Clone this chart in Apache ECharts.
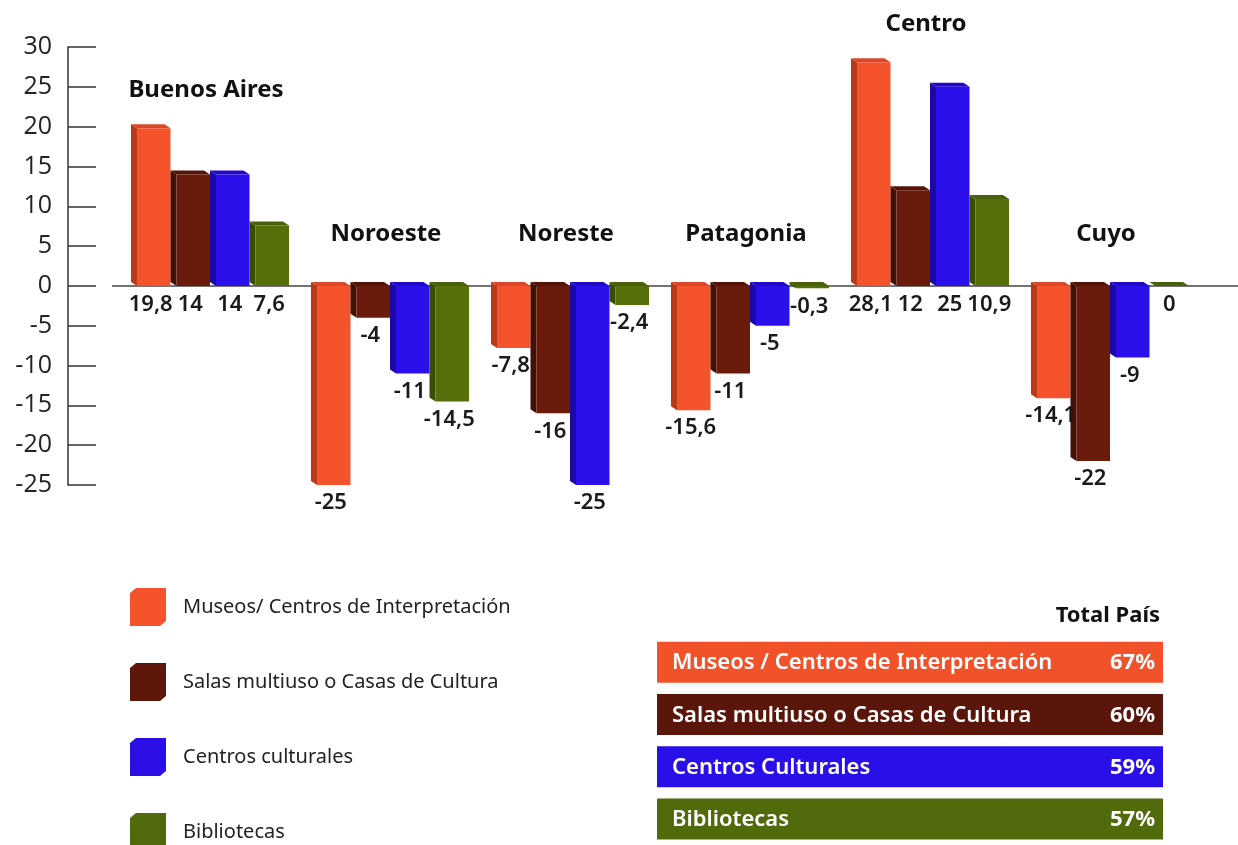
<!DOCTYPE html>
<html>
<head>
<meta charset="utf-8">
<script src="https://cdn.jsdelivr.net/npm/echarts@6/dist/echarts.min.js"></script>
<style>
html,body{margin:0;padding:0;background:#fff;}
#chart{width:1238px;height:845px;}
</style>
</head>
<body>
<div id="chart"></div>
<script>
// ---- data ----
const categories = ['Buenos Aires', 'Noroeste', 'Noreste', 'Patagonia', 'Centro', 'Cuyo'];
const seriesNames = ['Museos/ Centros de Interpretación', 'Salas multiuso o Casas de Cultura', 'Centros culturales', 'Bibliotecas'];
const museos = [19.8, -25, -7.8, -15.6, 28.1, -14.1];
const salas = [14, -4, -16, -11, 12, -22];
const centros = [14, -11, -25, -5, 25, -9];
const bibliotecas = [7.6, -14.5, -2.4, -0.3, 10.9, 0];
const yMin = -25, yMax = 30, yStep = 5;
const totalNames = ['Museos / Centros de Interpretación', 'Salas multiuso o Casas de Cultura', 'Centros Culturales', 'Bibliotecas'];
const totalValues = [67, 60, 59, 57];

// ---- styling ----
const palette = [
  { front: '#F4532B', side: '#B8391A', top: '#D9482A', flat: '#F4532B' },
  { front: '#6B1B0B', side: '#431005', top: '#561408', flat: '#5E1709' },
  { front: '#2C10EC', side: '#1C08A6', top: '#2408C8', flat: '#2B0FE6' },
  { front: '#566F0B', side: '#3A4D06', top: '#48600A', flat: '#526A0C' }
];
const allSeries = [museos, salas, centros, bibliotecas];
const fmt = v => String(v).replace('.', ',');

function barRender(si) {
  const col = palette[si];
  return function (params, api) {
    const ci = api.value(0), v = api.value(1);
    const c0 = api.coord([ci, 0]);
    const c1 = api.coord([ci, v]);
    const band = api.size([1, 0])[0];
    const groupW = band * 0.878;
    const bw = groupW / 4;
    const x = c0[0] - groupW / 2 + si * bw;
    const top = Math.min(c0[1], c1[1]);
    const bot = Math.max(c0[1], c1[1]);
    const d = 6, dy = 4;
    const children = [
      { type: 'polygon', shape: { points: [[x, top - dy], [x + d, top], [x + d, bot], [x, bot - dy]] }, style: { fill: col.side } },
      { type: 'polygon', shape: { points: [[x + d, top], [x + bw, top], [x + bw - d, top - dy], [x, top - dy]] }, style: { fill: col.top } },
      { type: 'rect', shape: { x: x + d, y: top, width: bw - d, height: Math.max(bot - top, 0) }, style: { fill: col.front } }
    ];
    const ly = v < 0 ? bot + 7 : c0[1] + 8;
    children.push({
      type: 'text', z2: 10,
      style: {
        x: x + (bw + d) / 2 - 3, y: ly, text: fmt(v),
        fill: '#1a1a1a', font: '600 22px "Noto Sans"',
        align: 'center', verticalAlign: 'top'
      }
    });
    return { type: 'group', children };
  };
}

const barSeries = allSeries.map((arr, si) => ({
  type: 'custom',
  name: seriesNames[si],
  xAxisIndex: 0, yAxisIndex: 0,
  z: 3,
  itemStyle: { color: palette[si].flat },
  renderItem: barRender(si),
  encode: { x: 0, y: 1 },
  data: arr.map((v, i) => [i, v])
}));

const groupMax = categories.map((_, i) => Math.max(...allSeries.map(a => a[i])));
const regionSeries = {
  type: 'custom', name: 'regions', xAxisIndex: 0, yAxisIndex: 0, z: 4,
  silent: true,
  renderItem: function (params, api) {
    const ci = api.value(0), m = api.value(1);
    const p = api.coord([ci, Math.max(m, 0)]);
    return {
      type: 'text',
      style: {
        x: p[0] - 4, y: p[1] - (m > 0 ? 38 : 52), text: categories[ci],
        fill: '#111', font: 'bold 24px "Noto Sans"', align: 'center', verticalAlign: 'middle'
      }
    };
  },
  encode: { x: 0, y: 1 },
  data: groupMax.map((m, i) => [i, m])
};

const totalColors = ['#F25229', '#5A160A', '#2A10E8', '#516A0C'];
const totalSeries = {
  type: 'custom', name: 'totals', xAxisIndex: 1, yAxisIndex: 1, silent: true,
  renderItem: function (params, api) {
    const ri = api.value(1);
    const p = api.coord([0, ri]);
    const cs = params.coordSys;
    const h = 41;
    return {
      type: 'group',
      children: [
        { type: 'rect', shape: { x: cs.x, y: p[1] - h / 2, width: cs.width, height: h }, style: { fill: totalColors[ri] } },
        { type: 'text', style: { x: cs.x + 15, y: p[1] + 1, text: totalNames[ri], fill: '#fff', font: '600 22px "Noto Sans"', align: 'left', verticalAlign: 'middle' } },
        { type: 'text', style: { x: cs.x + cs.width - 8, y: p[1] + 1, text: api.value(2) + '%', fill: '#fff', font: 'bold 22px "Noto Sans"', align: 'right', verticalAlign: 'middle' } }
      ]
    };
  },
  encode: { x: 0, y: 1 },
  data: totalValues.map((v, i) => [0, i, v])
};

const chart = echarts.init(document.getElementById('chart'), null, { renderer: 'canvas' });
chart.setOption({
  backgroundColor: '#fff',
  animation: false,
  title: {
    text: 'Total País', right: 73, top: 600,
    textStyle: { fontFamily: 'Noto Sans', fontWeight: 'bold', fontSize: 22, color: '#111' }
  },
  legend: {
    data: seriesNames,
    orient: 'vertical', left: 130, top: 588, height: 320, padding: 0,
    itemWidth: 36, itemHeight: 38, itemGap: 37,
    icon: 'path://M6,0 L36,0 L36,33 L30,38 L0,38 L0,5 Z',
    textStyle: { fontFamily: 'Noto Sans', fontSize: 20, color: '#222', padding: [0, 0, 0, 12] },
    selectedMode: false
  },
  grid: [
    { left: 120, right: 38, top: 47, bottom: 360 },
    { left: 657, width: 506, top: 636, height: 217 }
  ],
  xAxis: [
    { type: 'category', gridIndex: 0, data: categories, axisLine: { show: false }, axisTick: { show: false }, axisLabel: { show: false }, splitLine: { show: false } },
    { type: 'value', gridIndex: 1, min: 0, max: 1, show: false }
  ],
  yAxis: [
    {
      type: 'value', gridIndex: 0, min: yMin, max: yMax, interval: yStep,
      offset: 52,
      axisLine: { show: true, lineStyle: { color: '#333', width: 1.5 } },
      axisTick: { show: true, inside: true, length: 28, lineStyle: { color: '#333', width: 1.5 } },
      axisLabel: { fontFamily: 'Open Sans', fontSize: 25, color: '#222', margin: 16 },
      splitLine: { show: false }
    },
    { type: 'category', gridIndex: 1, data: totalNames, inverse: true, show: false }
  ],
  series: [...barSeries, regionSeries, totalSeries]
});

const y0 = chart.convertToPixel({ yAxisIndex: 0 }, 0);
chart.setOption({
  graphic: [{
    type: 'line', z: 1, silent: true,
    shape: { x1: 112, y1: y0, x2: 1238, y2: y0 },
    style: { stroke: '#444', lineWidth: 1.5 }
  }]
});
</script>
</body>
</html>
